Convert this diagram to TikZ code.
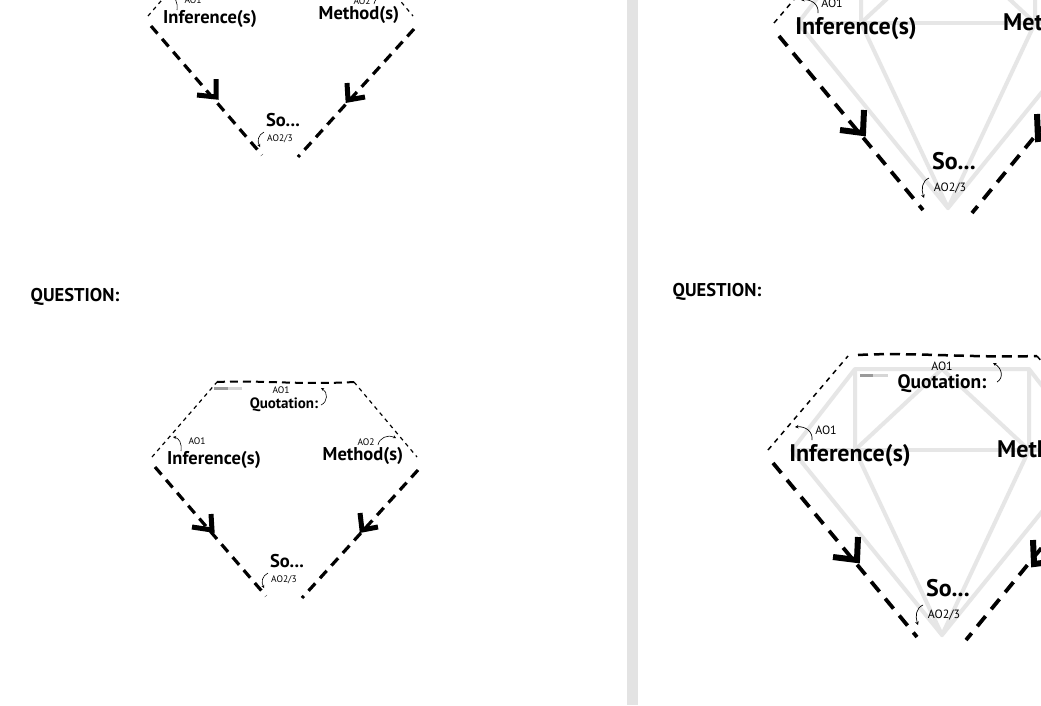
\documentclass[tikz,border=0pt]{standalone}
\usepackage{fontspec}
\setmainfont{PT Sans}
\usetikzlibrary{arrows.meta}
\definecolor{sepgray}{HTML}{E3E3E3}
\definecolor{gemgray}{HTML}{E6E6E6}
\definecolor{logodark}{HTML}{9A9A9A}
\definecolor{logolight}{HTML}{D6D6D6}
\newcommand{\fs}[1]{\fontsize{#1}{#1}\selectfont}
\tikzset{
  thinS/.style={line width=1.2pt, dash pattern=on 4pt off 4pt},
  topS/.style={line width=2pt, dash pattern=on 8pt off 5pt},
  thickS/.style={line width=3.2pt, dash pattern=on 10pt off 7pt},
  chevS/.style={line width=5pt, line cap=butt, line join=miter},
  curvA/.style={line width=0.6pt, -{Stealth[length=3pt,width=3pt]}},
  smallS/.style={inner sep=0pt, font=\fs{9.5}},
  midS/.style={inner sep=0pt, font=\bfseries\fs{15}},
  bigS/.style={inner sep=0pt, font=\bfseries\fs{18.5}},
  thinB/.style={line width=1.5pt, dash pattern=on 5pt off 5pt},
  topB/.style={line width=2.5pt, dash pattern=on 10pt off 6pt},
  thickB/.style={line width=3.8pt, dash pattern=on 13pt off 9pt},
  chevB/.style={line width=6pt, line cap=butt, line join=miter},
  curvB/.style={line width=0.7pt, -{Stealth[length=3.5pt,width=3.5pt]}},
  smallB/.style={inner sep=0pt, font=\fs{12}},
  midB/.style={inner sep=0pt, font=\bfseries\fs{19.5}},
  bigB/.style={inner sep=0pt, font=\bfseries\fs{24}},
  gemS/.style={gemgray, line width=4pt, line join=round},
  qS/.style={inner sep=0pt, font=\bfseries\fs{18.5}}
}
% small gem outline (bottom-left coordinates)
\newcommand{\smallgem}[1]{%
  \coordinate (#1L) at (152,457);
  \coordinate (#1TL) at (217,382);
  \coordinate (#1TR) at (354,382);
  \coordinate (#1R) at (417,457);
  \coordinate (#1LL) at (155,467);
  \coordinate (#1LB) at (266,596);
  \coordinate (#1RR) at (418,470);
  \coordinate (#1RB) at (302,598);
  \draw[thinS] (#1L) -- (#1TL);
  \draw[topS] (#1TL) .. controls (260,380) and (300,385) .. (#1TR);
  \draw[thinS] (#1TR) -- (#1R);
  \draw[thickS] (#1LL) -- (#1LB);
  \draw[thickS] (#1RR) -- (#1RB);
  \fill[logodark] (214,387) rectangle (228,390);
  \fill[logolight] (228,387) rectangle (242,390);
  \node[smallS] (#1aq) at (281,390) {AO1};
  \node[midS] (#1q) at (284,405) {Quotation:};
  \node[smallS] (#1ai) at (197,441) {AO1};
  \node[bigS] (#1i) at (214,460) {Inference(s)};
  \node[smallS] (#1am) at (366,442) {AO2};
  \node[bigS] (#1m) at (363,456) {Method(s)};
  \node[bigS] (#1s) at (287,561) {So...};
  \node[smallS] (#1as) at (284,580) {AO2/3};
  \coordinate (#1qa) at (321,405); \coordinate (#1qb) at (321,388);
  \draw[curvA] (#1qa) .. controls (328,402) and (328,392) .. (#1qb);
  \coordinate (#1ia) at (181,451); \coordinate (#1ib) at (173,437);
  \draw[curvA] (#1ia) .. controls (182,443) and (179,438) .. (#1ib);
  \coordinate (#1ma) at (378,445); \coordinate (#1mb) at (396,438);
  \draw[curvA] (#1ma) .. controls (379,438) and (388,434) .. (#1mb);
  \coordinate (#1sa) at (268,573); \coordinate (#1sb) at (264,588);
  \draw[curvA] (#1sa) .. controls (262,576) and (261,582) .. (#1sb);
}
% big gem (bottom-right coordinates)
\newcommand{\biggem}[1]{%
  \coordinate (#1g1) at (855,369); \coordinate (#1g2) at (1029,369);
  \coordinate (#1g3) at (792,450); \coordinate (#1g4) at (1092,450);
  \coordinate (#1g5) at (855,450); \coordinate (#1g6) at (1029,450);
  \coordinate (#1g7) at (942,369); \coordinate (#1g8) at (942,635);
  \draw[gemS] (#1g3) -- (#1g1) -- (#1g2) -- (#1g4) -- (#1g8) -- cycle;
  \draw[gemS] (#1g3) -- (#1g4);
  \draw[gemS] (#1g1) -- (#1g5) -- (#1g8) -- (#1g6) -- (#1g2);
  \draw[gemS] (#1g5) -- (#1g7) -- (#1g6);
  \coordinate (#1L) at (768,450);
  \coordinate (#1TL) at (848,356);
  \coordinate (#1TR) at (1037,356);
  \coordinate (#1R) at (1116,450);
  \coordinate (#1LL) at (773,463);
  \coordinate (#1LB) at (917,637);
  \coordinate (#1RR) at (1111,463);
  \coordinate (#1RB) at (966,640);
  \draw[thinB] (#1L) -- (#1TL);
  \draw[topB] (858,355) .. controls (910,352) and (970,358) .. (#1TR);
  \draw[thinB] (#1TR) -- (#1R);
  \draw[thickB] (#1LL) -- (#1LB);
  \draw[thickB] (#1RR) -- (#1RB);
  \fill[logodark] (860,374) rectangle (873,377);
  \fill[logolight] (873,374) rectangle (888,377);
  \node[smallB] (#1aq) at (942,366) {AO1};
  \node[midB] (#1q) at (942,384) {Quotation:};
  \node[smallB] (#1ai) at (826,430) {AO1};
  \node[bigB] (#1i) at (850,456) {Inference(s)};
  \node[bigB, anchor=west] (#1m) at (997,452) {Method(s)};
  \node[bigB] (#1s) at (948,588) {So...};
  \node[smallB] (#1as) at (944,615) {AO2/3};
  \coordinate (#1qa) at (997,382); \coordinate (#1qb) at (993,363);
  \draw[curvB] (#1qa) .. controls (1004,378) and (1002,368) .. (#1qb);
  \coordinate (#1ia) at (812,440); \coordinate (#1ib) at (795,427);
  \draw[curvB] (#1ia) .. controls (813,432) and (806,426) .. (#1ib);
  \coordinate (#1sa) at (923,605); \coordinate (#1sb) at (918,625);
  \draw[curvB] (#1sa) .. controls (916,608) and (915,616) .. (#1sb);
}
\begin{document}
\begin{tikzpicture}[x=1pt,y=-1pt]
\useasboundingbox (0,0) rectangle (1041,705);
\clip (0,0) rectangle (1041,705);
\fill[white] (0,0) rectangle (1041,705);
\fill[sepgray] (627,0) rectangle (638,705);
% question labels
\node[qS] (qleft) at (75,297) {QUESTION:};
\node[qS] (qright) at (717,292) {QUESTION:};
% bottom-left
\smallgem{bl}
\coordinate (blcl) at (212,530); \coordinate (blcr) at (362,530);
\draw[chevS] (192,527) -- (blcl) -- (211,514);
\draw[chevS] (360,513) -- (blcr) -- (378,527);
% top-left
\begin{scope}[shift={(-4,-441)}]
\smallgem{tl}
\end{scope}
\coordinate (tlcl) at (216,97); \coordinate (tlcr) at (348,100);
\draw[chevS] (197,95) -- (tlcl) -- (216,79);
\draw[chevS] (347,83) -- (tlcr) -- (365,97);
% bottom-right
\biggem{br}
\coordinate (brcl) at (857,560); \coordinate (brcr) at (1034,564);
\draw[chevB] (833,557) -- (brcl) -- (858,537);
\draw[chevB] (1033,540) -- (brcr) -- (1058,561);
% top-right
\begin{scope}[shift={(6,-427)}]
\biggem{tr}
\end{scope}
\coordinate (trcl) at (863,133); \coordinate (trcr) at (1038,139);
\draw[chevB] (840,130) -- (trcl) -- (864,110);
\draw[chevB] (1037,114) -- (trcr) -- (1062,136);
\end{tikzpicture}
\end{document}
